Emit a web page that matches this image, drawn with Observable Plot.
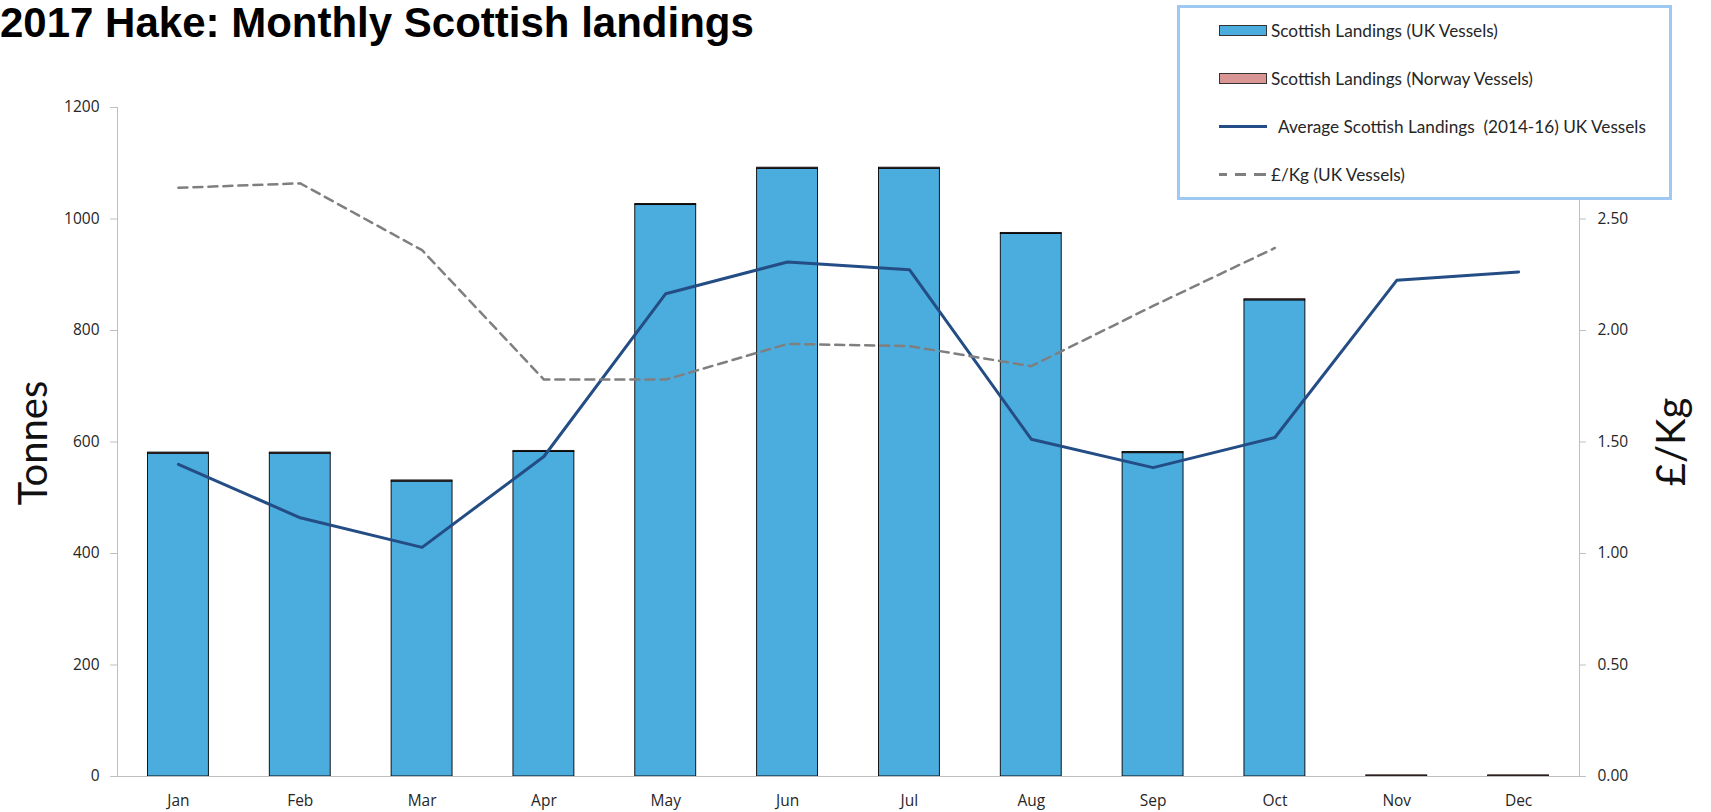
<!DOCTYPE html>
<html>
<head>
<meta charset="utf-8">
<script src="https://cdn.jsdelivr.net/npm/d3@7"></script>
<script src="https://cdn.jsdelivr.net/npm/@observablehq/plot@0.6"></script>
<style>
  html, body { margin: 0; padding: 0; background: #fff; }
  #wrap { position: relative; width: 1711px; height: 812px; overflow: hidden; }
  #chart { position: absolute; left: 0; top: 0; }
  #title { position: absolute; left: 0px; top: 2px; font-family: "Liberation Sans", Arial, sans-serif; font-weight: bold; font-size: 42px; line-height: 42px; color: #000; white-space: nowrap; }
  .ylab { position: absolute; font-family: Lato, sans-serif; font-size: 40px; line-height: 1; color: #111; white-space: nowrap; transform: translate(-50%, -50%) rotate(-90deg); }
  #legend { position: absolute; left: 1177px; top: 5px; width: 489px; height: 189px; border: 3px solid #9DC9F3; background: #fff; font-family: Lato, sans-serif; font-size: 17.2px; color: #262626; }
  .row { position: absolute; left: 39px; height: 20px; display: flex; align-items: center; white-space: pre; }
  .sw { width: 46px; height: 9px; border: 1px solid #333; margin-right: 4px; flex: none; }
  .ln { width: 48px; height: 0; flex: none; margin-right: 4px; }
</style>
</head>
<body>
<div id="wrap">
  <div id="chart"></div>
  <div id="title"></div>
  <div class="ylab" id="ylabL" style="left:32px; top:443px;"></div>
  <div class="ylab" id="ylabR" style="left:1670px; top:442px;"></div>
  <div id="legend"></div>
</div>
<script>
// ---- data ----
const titleText = "2017 Hake: Monthly Scottish landings";
const months = ["Jan", "Feb", "Mar", "Apr", "May", "Jun", "Jul", "Aug", "Sep", "Oct", "Nov", "Dec"];
const ukLandings = [579, 579, 529, 582, 1025, 1090, 1090, 973, 580, 854, 0, 0];
const norwayLandings = [2, 2, 2, 2, 2, 2, 2, 2, 2, 2, 2, 2];
const avgLandings = [560, 464, 411, 574, 866, 923, 909, 605, 554, 608, 890, 905];
const pricePerKg = [2.64, 2.66, 2.36, 1.78, 1.78, 1.94, 1.93, 1.84, 2.11, 2.37, null, null];
const tonnesTicks = [0, 200, 400, 600, 800, 1000, 1200];
const priceTicks = [0, 0.5, 1.0, 1.5, 2.0, 2.5, 3.0];
const seriesNames = ["Scottish Landings (UK Vessels)", "Scottish Landings (Norway Vessels)", "Average Scottish Landings  (2014-16) UK Vessels", "£/Kg (UK Vessels)"];
const leftLabel = "Tonnes";
const rightLabel = "£/Kg";

// right axis (0–3 £/Kg) shares the frame with the left axis (0–1200 t)
const tonnesMax = tonnesTicks[tonnesTicks.length - 1];
const priceMax = priceTicks[priceTicks.length - 1];
const k = tonnesMax / priceMax;

const colUK = "#4BACDE", colNO = "#D99694", colAvg = "#234D84", colPrice = "#7F7F7F";

const bars = months.flatMap((m, i) => [
  {month: m, series: "UK", value: ukLandings[i]},
  {month: m, series: "Norway", value: norwayLandings[i]}
]);
const rows = months.map((m, i) => ({month: m, avg: avgLandings[i], price: pricePerKg[i]}));

const chart = Plot.plot({
  width: 1711,
  height: 812,
  marginLeft: 117,
  marginRight: 132,
  marginTop: 107,
  marginBottom: 36,
  style: {fontFamily: "'Open Sans', sans-serif", background: "transparent"},
  x: {type: "band", domain: months, paddingInner: 0.5, paddingOuter: 0.25, round: false, axis: null},
  y: {domain: [0, tonnesMax], axis: null},
  color: {domain: ["UK", "Norway"], range: [colUK, colNO]},
  marks: [
    Plot.barY(bars, {x: "month", y: "value", fill: "series", stroke: "#000", strokeWidth: 0.9}),
    Plot.line(rows, {x: "month", y: "avg", stroke: colAvg, strokeWidth: 3}),
    Plot.line(rows, {x: "month", y: d => d.price == null ? NaN : d.price * k, stroke: colPrice, strokeWidth: 2.5, strokeDasharray: "9,6"}),
    Plot.frame({anchor: "left", stroke: "#BFBFBF"}),
    Plot.frame({anchor: "right", stroke: "#BFBFBF"}),
    Plot.frame({anchor: "bottom", stroke: "#BFBFBF"}),
    Plot.axisY({anchor: "left", ticks: tonnesTicks, tickFormat: d => String(d), tickSize: 7, tickPadding: 11, fontSize: 15.5, stroke: "#BFBFBF", color: "#262626", label: null}),
    Plot.axisY({anchor: "right", ticks: priceTicks.map(p => p * k), tickFormat: d => (d / k).toFixed(2), tickSize: 6, tickPadding: 12, fontSize: 15.5, stroke: "#BFBFBF", color: "#262626", label: null}),
    Plot.axisX({anchor: "bottom", tickSize: 0, tickPadding: 18, fontSize: 15.5, color: "#262626", label: null})
  ]
});
document.getElementById("chart").appendChild(chart);

document.getElementById("title").textContent = titleText;
document.getElementById("ylabL").textContent = leftLabel;
document.getElementById("ylabR").textContent = rightLabel;

// legend
const legend = document.getElementById("legend");
const rowTops = [12, 60, 108, 156];
const swatches = [
  `<span class="sw" style="background:${colUK}"></span>`,
  `<span class="sw" style="background:${colNO}"></span>`,
  `<span class="ln" style="border-top:3px solid ${colAvg}; margin-right:11px"></span>`,
  `<span class="ln" style="border-top:3px dashed ${colPrice}; border-image: repeating-linear-gradient(90deg, ${colPrice} 0 10px, transparent 10px 17px) 3;"></span>`
];
seriesNames.forEach((name, i) => {
  const div = document.createElement("div");
  div.className = "row";
  div.style.top = rowTops[i] + "px";
  div.innerHTML = swatches[i] + `<span></span>`;
  div.lastChild.textContent = name;
  legend.appendChild(div);
});
</script>
</body>
</html>
